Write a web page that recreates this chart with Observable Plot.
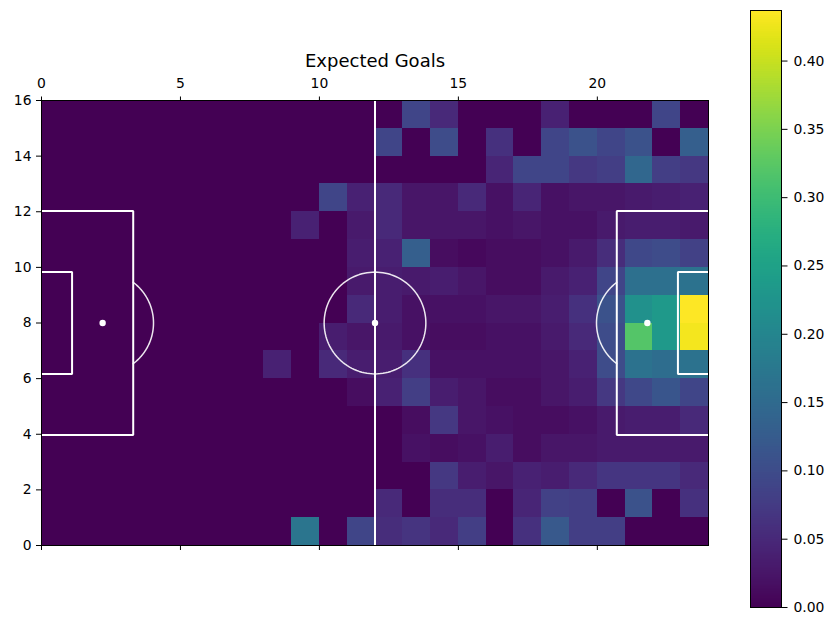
<!DOCTYPE html>
<html>
<head>
<meta charset="utf-8">
<script src="https://cdn.jsdelivr.net/npm/d3@7"></script>
<script src="https://cdn.jsdelivr.net/npm/@observablehq/plot@0.6"></script>
<style>
  body { margin: 0; background: #fff; }
  #wrap { display: flex; width: 827px; height: 642px; }
</style>
</head>
<body>
<div id="wrap"></div>
<script>
// Expected-goals grid: 24 columns along the pitch, 16 rows across it.
// Rows are listed from the far touchline (y 15–16) down to y 0–1.
const xgRows = [
  [0,0,0,0,0,0,0,0,0,0,0,0, 0,0.09,0.05,0,0,0,0.04,0,0,0,0.09,0],
  [0,0,0,0,0,0,0,0,0,0,0,0, 0.09,0,0.10,0,0.06,0,0.09,0.11,0.09,0.11,0,0.13],
  [0,0,0,0,0,0,0,0,0,0,0,0, 0,0,0,0,0.045,0.09,0.09,0.07,0.08,0.145,0.08,0.07],
  [0,0,0,0,0,0,0,0,0,0,0.09,0.04, 0.05,0.025,0.025,0.05,0.02,0.045,0.02,0.025,0.025,0.03,0.035,0.04],
  [0,0,0,0,0,0,0,0,0,0.04,0,0.03, 0.05,0.025,0.025,0.025,0.02,0.025,0.02,0.02,0.03,0.035,0.035,0.03],
  [0,0,0,0,0,0,0,0,0,0,0,0.035, 0.04,0.13,0.015,0.01,0.015,0.015,0.02,0.03,0.055,0.095,0.10,0.085],
  [0,0,0,0,0,0,0,0,0,0,0,0.03, 0.035,0.03,0.035,0.025,0.015,0.015,0.03,0.04,0.09,0.16,0.16,0.165],
  [0,0,0,0,0,0,0,0,0,0,0,0.05, 0.035,0.02,0.02,0.02,0.025,0.025,0.035,0.06,0.11,0.22,0.235,0.437],
  [0,0,0,0,0,0,0,0,0,0,0.035,0.025, 0.03,0.02,0.015,0.015,0.02,0.02,0.03,0.05,0.10,0.32,0.235,0.43],
  [0,0,0,0,0,0,0,0,0.04,0,0.05,0.035, 0.035,0.06,0.02,0.02,0.02,0.02,0.025,0.04,0.10,0.165,0.155,0.165],
  [0,0,0,0,0,0,0,0,0,0,0,0.015, 0.04,0.08,0.035,0.025,0.015,0.015,0.025,0.035,0.07,0.095,0.115,0.09],
  [0,0,0,0,0,0,0,0,0,0,0,0, 0,0.015,0.07,0.025,0.02,0.015,0.015,0.02,0.03,0.035,0.035,0.05],
  [0,0,0,0,0,0,0,0,0,0,0,0, 0,0.02,0.015,0.02,0.035,0.015,0.025,0.025,0.03,0.03,0.03,0.03],
  [0,0,0,0,0,0,0,0,0,0,0,0, 0,0,0.07,0.035,0.025,0.04,0.035,0.05,0.068,0.068,0.068,0.05],
  [0,0,0,0,0,0,0,0,0,0,0,0, 0.05,0,0.055,0.055,0,0.045,0.085,0.08,0,0.11,0,0.06],
  [0,0,0,0,0,0,0,0,0,0.17,0,0.09, 0.055,0.065,0.05,0.08,0,0.06,0.12,0.08,0.08,0,0,0]
];

const xTicks = [0, 5, 10, 15, 20];
const yTicks = [0, 2, 4, 6, 8, 10, 12, 14, 16];
const colorbarTicks = [0, 0.05, 0.10, 0.15, 0.20, 0.25, 0.30, 0.35, 0.40];
const chartTitle = "Expected Goals";

// Pitch dimensions in grid units
const pitchLength = 24, pitchWidth = 16;
const boxDepth = 3.3, boxHalfWidth = 4.03;
const sixDepth = 1.1, sixHalfWidth = 1.83;
const spotDistance = 2.2, circleRadius = 1.83;

// Flatten the grid into cells
const cells = [];
xgRows.forEach((row, i) => {
  const y = xgRows.length - 1 - i;
  row.forEach((v, x) => cells.push({x, y, v}));
});
const vmax = d3.max(cells, d => d.v);

// Pitch markings as polylines
const midY = pitchWidth / 2;
const segments = [];
function addPath(id, pts) { pts.forEach(([x, y]) => segments.push({id, x, y})); }
addPath("box-left", [[0, midY - boxHalfWidth], [boxDepth, midY - boxHalfWidth], [boxDepth, midY + boxHalfWidth], [0, midY + boxHalfWidth]]);
addPath("six-left", [[0, midY - sixHalfWidth], [sixDepth, midY - sixHalfWidth], [sixDepth, midY + sixHalfWidth], [0, midY + sixHalfWidth]]);
addPath("box-right", [[pitchLength, midY - boxHalfWidth], [pitchLength - boxDepth, midY - boxHalfWidth], [pitchLength - boxDepth, midY + boxHalfWidth], [pitchLength, midY + boxHalfWidth]]);
addPath("six-right", [[pitchLength, midY - sixHalfWidth], [pitchLength - sixDepth, midY - sixHalfWidth], [pitchLength - sixDepth, midY + sixHalfWidth], [pitchLength, midY + sixHalfWidth]]);
addPath("halfway", [[pitchLength / 2, 0], [pitchLength / 2, pitchWidth]]);

const curves = [];
function addArc(id, cx, cy, r, a0, a1) {
  const n = 120;
  for (let k = 0; k <= n; k++) {
    const a = a0 + (a1 - a0) * k / n;
    curves.push({id, x: cx + r * Math.cos(a), y: cy + r * Math.sin(a)});
  }
}
addArc("centre", pitchLength / 2, midY, circleRadius, 0, 2 * Math.PI);
const arcAngle = Math.acos((boxDepth - spotDistance) / circleRadius);
addArc("arc-left", spotDistance, midY, circleRadius, -arcAngle, arcAngle);
addArc("arc-right", pitchLength - spotDistance, midY, circleRadius, Math.PI - arcAngle, Math.PI + arcAngle);

const spots = [
  {x: spotDistance, y: midY},
  {x: pitchLength / 2, y: midY},
  {x: pitchLength - spotDistance, y: midY}
];

const colorScale = {type: "linear", scheme: "viridis", domain: [0, vmax]};
const fontStyle = {fontFamily: "DejaVu Sans", fontSize: "13.9px", color: "black", background: "transparent"};

const pitch = Plot.plot({
  width: 740,
  height: 642,
  marginLeft: 41,
  marginRight: 32,
  marginTop: 100,
  marginBottom: 97,
  style: fontStyle,
  x: {domain: [0, pitchLength], label: null},
  y: {domain: [0, pitchWidth], label: null},
  color: colorScale,
  marks: [
    Plot.rect(cells, {x1: "x", x2: d => d.x + 1, y1: "y", y2: d => d.y + 1, fill: "v", shapeRendering: "crispEdges"}),
    Plot.line(segments, {x: "x", y: "y", z: "id", stroke: "white", strokeWidth: 2, strokeLinejoin: "miter"}),
    Plot.line(curves, {x: "x", y: "y", z: "id", stroke: "white", strokeWidth: 1.5, strokeOpacity: 0.9}),
    Plot.dot(spots, {x: "x", y: "y", r: 3.2, fill: "white"}),
    Plot.frame({stroke: "black", strokeWidth: 1}),
    Plot.axisX(xTicks, {anchor: "top", tickSize: 4.5, tickPadding: 8.5, label: null}),
    Plot.axisX(xTicks, {anchor: "bottom", tickSize: 5, tickFormat: () => "", label: null}),
    Plot.axisY(yTicks, {anchor: "left", tickSize: 5, tickPadding: 5, label: null}),
    Plot.text([chartTitle], {frameAnchor: "top", dy: -34, lineAnchor: "bottom", fontSize: 18, fill: "black"})
  ]
});

const colorbar = Plot.plot({
  width: 87,
  height: 642,
  marginLeft: 10,
  marginRight: 46,
  marginTop: 10,
  marginBottom: 35,
  style: fontStyle,
  x: {domain: [0, 1], axis: null},
  y: {domain: [0, vmax], label: null},
  color: colorScale,
  marks: [
    Plot.raster({x1: 0, x2: 1, y1: 0, y2: vmax, width: 2, height: 600, fill: (x, y) => y}),
    Plot.frame({stroke: "black", strokeWidth: 1}),
    Plot.axisY(colorbarTicks, {anchor: "right", tickSize: 5.5, tickPadding: 6.5, tickFormat: d3.format(".2f"), label: null})
  ]
});

const wrap = document.getElementById("wrap");
wrap.appendChild(pitch);
wrap.appendChild(colorbar);
</script>
</body>
</html>
